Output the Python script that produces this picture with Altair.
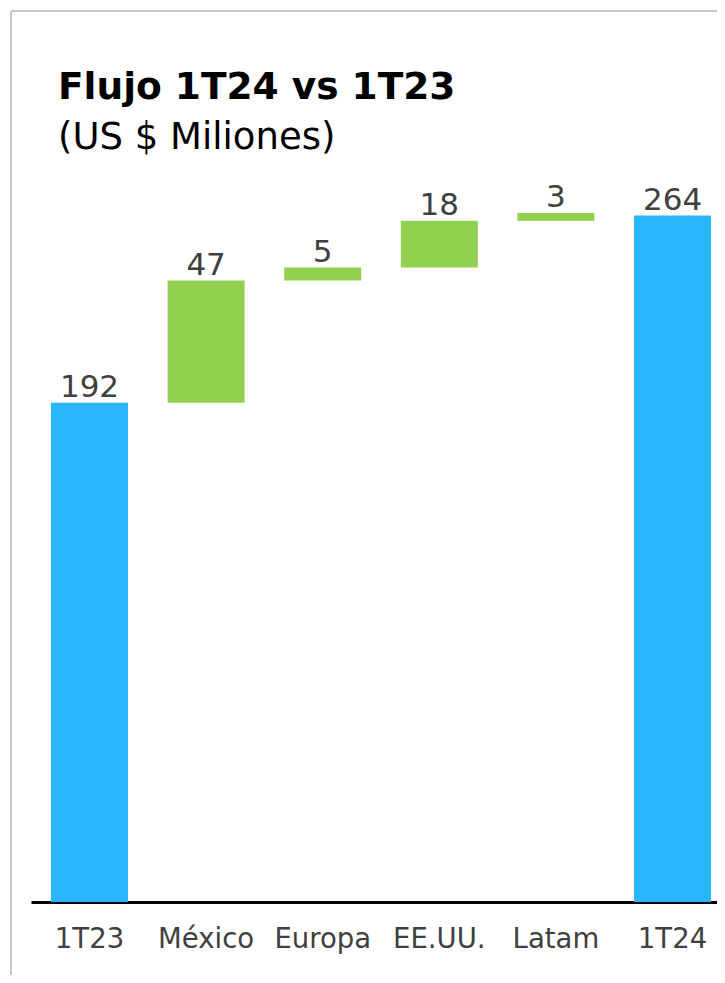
import altair as alt
import pandas as pd

categories = ["1T23", "México", "Europa", "EE.UU.", "Latam", "1T24"]
values = [192, 47, 5, 18, 3, 264]
kinds = ["total", "delta", "delta", "delta", "delta", "total"]

rows = []
running = 0
for cat, val, kind in zip(categories, values, kinds):
    if kind == "total":
        start, end = 0, val
        running = val
    else:
        start, end = running, running + val
        running = end
    rows.append({"cat": cat, "start": start, "end": end, "label": str(val), "kind": kind})
df = pd.DataFrame(rows)

font = "DejaVu Sans"
x_enc = alt.X(
    "cat:N",
    sort=categories,
    scale=alt.Scale(paddingInner=0.34, paddingOuter=0.1116, align=0.769),
    axis=alt.Axis(
        title=None, labelAngle=0, ticks=False, domain=True, domainColor="#000000",
        domainWidth=3, labelFont=font, labelFontSize=27.5, labelColor="#404040",
        labelPadding=23, grid=False,
    ),
)
y_scale = alt.Scale(domain=[0, 300], nice=False, zero=True)

base = alt.Chart(df)
bars = base.mark_bar().encode(
    x=x_enc,
    y=alt.Y("start:Q", scale=y_scale, axis=None),
    y2="end:Q",
    color=alt.Color("kind:N", scale=alt.Scale(domain=["total", "delta"], range=["#29B6FF", "#92D050"]), legend=None),
)
labels = base.mark_text(baseline="alphabetic", dy=-6, font=font, fontSize=31, color="#404040").encode(
    x=alt.X("cat:N", sort=categories),
    y=alt.Y("end:Q", scale=y_scale),
    text="label:N",
)
frame_top = alt.Chart(df).mark_rule(color="#c8c8c8", strokeWidth=2).encode(
    x=alt.value(-20), x2=alt.value(900), y=alt.value(-111)
)
frame_left = alt.Chart(df).mark_rule(color="#c8c8c8", strokeWidth=2).encode(
    x=alt.value(-20), y=alt.value(-111), y2=alt.value(1000)
)

chart = alt.layer(frame_top, frame_left, bars, labels).properties(
    width=686,
    height=780,
    autosize=alt.AutoSizeParams(type="none"),
    padding={"left": 23, "top": 114, "right": 0, "bottom": 73},
    title=alt.Title(
        "Flujo 1T24 vs 1T23",
        subtitle="(US $ Miliones)",
        anchor="start",
        dx=48,
        offset=-146,
        font=font,
        fontSize=37.5,
        fontWeight="bold",
        color="#000000",
        subtitleFont=font,
        subtitleFontSize=37,
        subtitleColor="#000000",
        subtitlePadding=14,
    ),
).configure_view(stroke=None)

chart.save("out.html", embed_options={"renderer": "svg", "actions": False})
